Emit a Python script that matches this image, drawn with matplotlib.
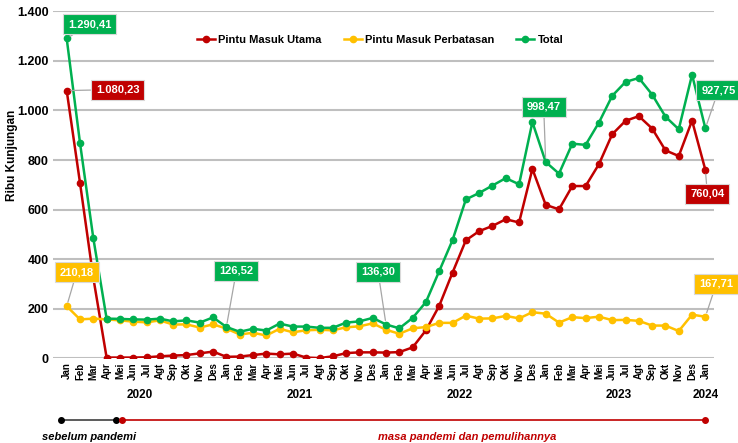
import matplotlib
matplotlib.use("Agg")
import matplotlib.pyplot as plt
import matplotlib.transforms as mtransforms
import numpy as np

plt.rcParams['font.family'] = ['Liberation Sans', 'DejaVu Sans']

# %% data
month_names = ["Jan", "Feb", "Mar", "Apr", "Mei", "Jun", "Jul", "Agt", "Sep", "Okt", "Nov", "Des"]
months = month_names * 4 + ["Jan"]
years = ["2020", "2021", "2022", "2023", "2024"]

utama = [1080.23, 708, 325, 3, 3, 3, 4, 8, 11, 13, 20, 27,
         6, 7, 13, 19, 16, 19, 3, 1, 8, 21, 24, 24,
         23, 25, 44, 113, 212, 346, 476, 513, 534, 561, 548, 764,
         619, 601, 695, 695, 783, 904, 958, 977, 927, 839, 816, 959,
         760.04]

perbatasan = [210.18, 157, 160, 157, 153, 148, 145, 153, 136, 137, 124, 137,
              120, 96, 103, 92, 119, 105, 113, 115, 113, 125, 129, 141,
              115, 99, 121, 126, 143, 143, 172, 160, 161, 171, 161, 186,
              180, 144, 166, 162, 168, 154, 155, 151, 132, 132, 110, 176,
              167.71]

total = [1290.41, 869, 485, 160, 159, 157, 156, 160, 149, 153, 144, 165,
         126.52, 107, 119, 112, 140, 128, 128, 123, 123, 144, 149, 163,
         136.30, 121, 163, 227, 352, 477, 641, 667, 697, 727, 702, 953,
         792, 745, 866, 861, 951, 1059, 1115, 1131, 1064, 975, 924, 1144,
         927.75]

# (series, index, label text, offset in px)
callouts = [
    ("total", 0, "1.290,41", (23, 14)),
    ("utama", 0, "1.080,23", (51, 1)),
    ("perbatasan", 0, "210,18", (10, 34)),
    ("total", 12, "126,52", (10, 56)),
    ("total", 24, "136,30", (-8, 53)),
    ("total", 36, "998,47", (-2, 55)),
    ("total", 48, "927,75", (13, 38)),
    ("utama", 48, "760,04", (2, -24)),
    ("perbatasan", 48, "167,71", (11, 33)),
]

RED = "#C00000"
YELLOW = "#FFC000"
GREEN = "#00B050"
colors = {"utama": RED, "perbatasan": YELLOW, "total": GREEN}
series = {"utama": utama, "perbatasan": perbatasan, "total": total}

# %% plot
fig = plt.figure(figsize=(7.38, 4.43), dpi=100)
ax = fig.add_axes([0.0718, 0.1912, 0.8957, 0.7833])

x = np.arange(len(months))
ax.plot(x, utama, color=RED, lw=1.8, marker="o", ms=4.5, label="Pintu Masuk Utama", zorder=3)
ax.plot(x, perbatasan, color=YELLOW, lw=1.8, marker="o", ms=4.5, label="Pintu Masuk Perbatasan", zorder=3)
ax.plot(x, total, color=GREEN, lw=1.8, marker="o", ms=4.5, label="Total", zorder=4)

ax.set_xlim(-1.03, 48.65)
ax.set_ylim(0, 1400)
ax.set_yticks(np.arange(0, 1401, 200))
ax.set_yticklabels([f"{v:,}".replace(",", ".") for v in range(0, 1401, 200)],
                   fontsize=9, fontweight="bold")
ax.set_xticks(x)
ax.set_xticklabels(months, rotation=90, fontsize=7, fontweight="bold")
ax.tick_params(length=0, pad=3)
ax.yaxis.grid(True, color="#BFBFBF", lw=1.5)
ax.set_axisbelow(True)
for s in ax.spines.values():
    s.set_visible(False)

fig.text(12 / 738, 1 - 155 / 443, "Ribu Kunjungan", rotation=90, fontsize=8.5,
         fontweight="bold", ha="center", va="center")

leg = ax.legend(loc="center", bbox_to_anchor=(0.495, 0.917), ncol=3, frameon=False,
                fontsize=8, handlelength=1.6, columnspacing=2.0, handletextpad=0.3,
                prop={"weight": "bold", "size": 8})

# callouts
for key, i, txt, off in callouts:
    ax.annotate(txt, xy=(i, series[key][i]), xytext=off, textcoords="offset pixels",
                ha="center", va="center", fontsize=8, fontweight="bold", color="white",
                bbox=dict(boxstyle="square,pad=0.45", fc=colors[key], ec="#D9D9D9", lw=0.8),
                arrowprops=dict(arrowstyle="-", color="#A6A6A6", lw=0.9, shrinkA=0, shrinkB=3),
                zorder=6)

# year labels
trans = mtransforms.blended_transform_factory(ax.transData, ax.transAxes)
year_pos = [5.5, 17.5, 29.5, 41.5, 48]
for yr, xp in zip(years, year_pos):
    ax.text(xp, -0.106, yr, transform=trans, ha="center", va="center",
            fontsize=8.5, fontweight="bold")

# timeline
ty = -0.178
ax.plot([-0.4, 3.7], [ty, ty], transform=trans, color="#404040", lw=1.2,
        marker="o", ms=4, mfc="black", mec="black", clip_on=False)
ax.plot([4.15, 48], [ty, ty], transform=trans, color=RED, lw=1.2,
        marker="o", ms=4, mfc=RED, mec=RED, clip_on=False)
ax.text(1.7, -0.227, "sebelum pandemi", transform=trans, ha="center", va="center",
        fontsize=8, fontweight="bold", style="italic", color="black")
ax.text(30.1, -0.227, "masa pandemi dan pemulihannya", transform=trans, ha="center",
        va="center", fontsize=8, fontweight="bold", style="italic", color=RED)

fig.savefig("out.png", dpi=100)
